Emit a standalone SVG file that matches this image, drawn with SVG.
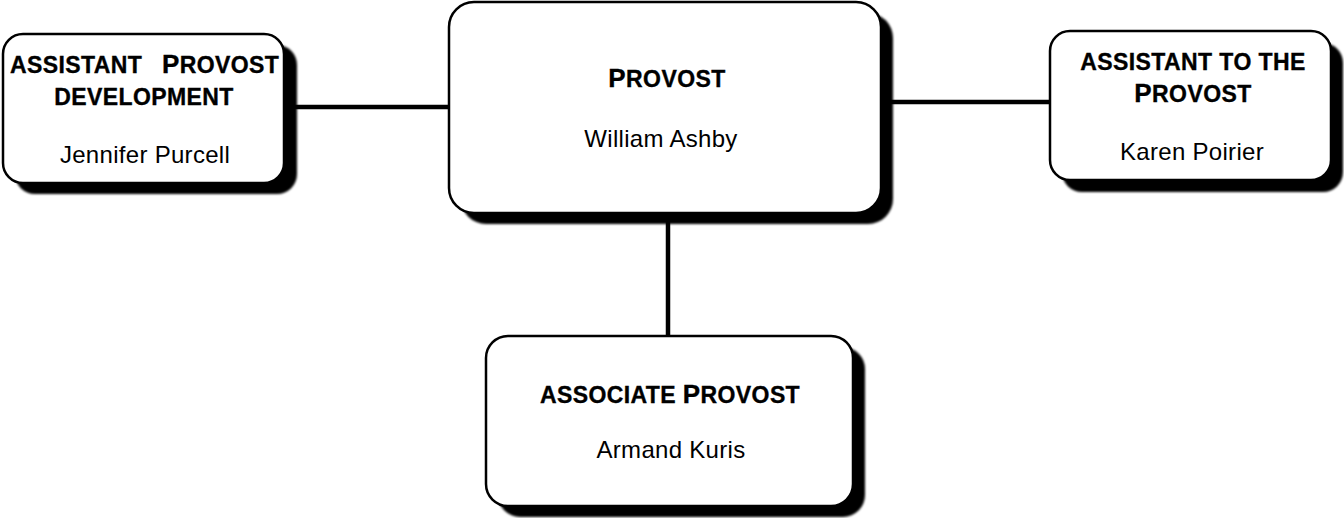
<svg xmlns="http://www.w3.org/2000/svg" width="1344" height="518" viewBox="0 0 1344 518">
  <defs>
    <style>
      .box { fill: #ffffff; stroke: #000000; stroke-width: 2.5; }
      .shadow { fill: #000000; }
      .conn { stroke: #000000; stroke-width: 4.5; fill: none; stroke-linecap: butt; }
      .title { font-family: "Liberation Sans", Arial, sans-serif; font-weight: bold; font-size: 23px; letter-spacing: 0.4px; fill: #000000; stroke: #000000; stroke-width: 0.35px; }
      .cap { font-size: 26px; }
      .name { font-family: "Liberation Sans", Arial, sans-serif; font-size: 24px; letter-spacing: 0.3px; fill: #000000; }
    </style>
    <filter id="soft" x="-5%" y="-5%" width="110%" height="110%">
      <feGaussianBlur stdDeviation="1"/>
    </filter>
  </defs>
  <rect x="0" y="0" width="1344" height="518" fill="#ffffff"/>

  <g id="connectors">
    <line class="conn" x1="284" y1="107" x2="449" y2="107"/>
    <line class="conn" x1="881" y1="102" x2="1050" y2="102"/>
    <line class="conn" x1="668" y1="213" x2="668" y2="336"/>
  </g>

  <g id="node-assistant-provost-development">
    <rect class="shadow" filter="url(#soft)" x="15" y="45" width="282" height="149" rx="20"/>
    <rect class="box" x="3" y="34" width="281" height="149" rx="20"/>
    <text class="title" y="73"><tspan x="10">ASSISTANT</tspan><tspan x="162"><tspan class="cap">P</tspan>ROVOST</tspan></text>
    <text class="title" x="144" y="105" text-anchor="middle">DEVELOPMENT</text>
    <text class="name" x="145" y="163" text-anchor="middle">Jennifer Purcell</text>
  </g>

  <g id="node-provost">
    <rect class="shadow" filter="url(#soft)" x="461" y="13" width="432" height="211" rx="25"/>
    <rect class="box" x="449" y="2" width="432" height="211" rx="25"/>
    <text class="title" x="667" y="87" text-anchor="middle"><tspan class="cap">P</tspan>ROVOST</text>
    <text class="name" x="661" y="147" text-anchor="middle">William Ashby</text>
  </g>

  <g id="node-assistant-to-the-provost">
    <rect class="shadow" filter="url(#soft)" x="1062" y="43" width="281" height="149" rx="20"/>
    <rect class="box" x="1050" y="31" width="281" height="149" rx="20"/>
    <text class="title" x="1193" y="70" text-anchor="middle">ASSISTANT TO THE</text>
    <text class="title" x="1193" y="102" text-anchor="middle"><tspan class="cap">P</tspan>ROVOST</text>
    <text class="name" x="1192" y="160" text-anchor="middle">Karen Poirier</text>
  </g>

  <g id="node-associate-provost">
    <rect class="shadow" filter="url(#soft)" x="498" y="347" width="367" height="170" rx="22"/>
    <rect class="box" x="486" y="336" width="367" height="170" rx="22"/>
    <text class="title" x="670" y="403" text-anchor="middle">ASSOCIATE <tspan class="cap">P</tspan>ROVOST</text>
    <text class="name" x="671" y="458" text-anchor="middle">Armand Kuris</text>
  </g>
</svg>
